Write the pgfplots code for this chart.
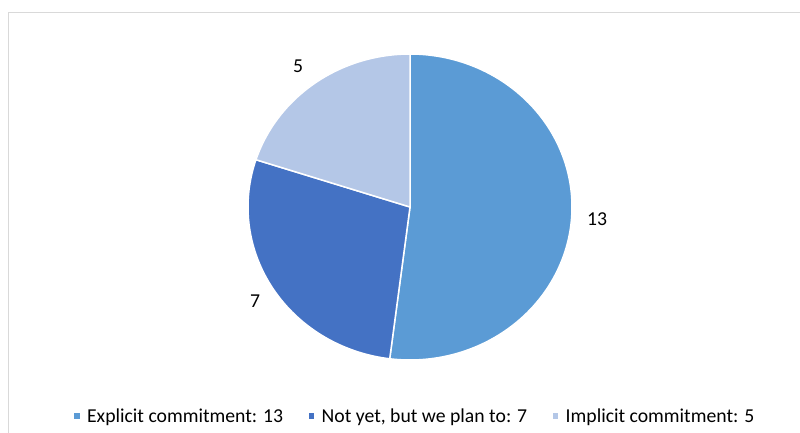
\documentclass[border=0pt]{standalone}
\usepackage{pgfplots}
\pgfplotsset{compat=1.18}
\usepackage{fontspec}
\setmainfont{Carlito}
\definecolor{cA}{HTML}{5B9BD5}
\definecolor{cB}{HTML}{4472C4}
\definecolor{cC}{HTML}{B4C7E7}
\definecolor{frame}{HTML}{D9D9D9}
\def\vA{13}\def\vB{7}\def\vC{5}
\pgfmathsetmacro\tot{\vA+\vB+\vC}
\pgfmathsetmacro\aA{90-360*\vA/\tot}
\pgfmathsetmacro\aB{\aA-360*\vB/\tot}
\pgfmathsetmacro\aC{\aB-360*\vC/\tot}
\begin{document}%
\begin{tikzpicture}[font=\fontsize{19.7pt}{23pt}\selectfont]
\begin{axis}[at={(0,0)},anchor=south west, scale only axis, width=800pt, height=432pt,
  xmin=0,xmax=800,ymin=0,ymax=432, hide axis, clip=false,
  legend columns=3,
  legend style={at={(axis cs:414.5,16)}, anchor=center, draw=none, fill=none,
    font=\fontsize{19.7pt}{23pt}\selectfont,
    /tikz/every odd column/.append style={column sep=4pt},
    /tikz/every even column/.append style={column sep=22pt}},
  legend image code/.code={\fill (0pt,-3.5pt) rectangle (7pt,3.5pt);},
]
\addplot[fill=cA, draw=white, line width=1.5pt, domain=\aA:90, samples=120]
  ({410+162*cos(x)},{225+153*sin(x)}) -- (axis cs:410,225) -- cycle;
\addplot[fill=cB, draw=white, line width=1.5pt, domain=\aB:\aA, samples=80]
  ({410+162*cos(x)},{225+153*sin(x)}) -- (axis cs:410,225) -- cycle;
\addplot[fill=cC, draw=white, line width=1.5pt, domain=\aC:\aB, samples=60]
  ({410+162*cos(x)},{225+153*sin(x)}) -- (axis cs:410,225) -- cycle;
\legend{Explicit commitment: 13, {Not yet, but we plan to: 7}, Implicit commitment: 5}
\node at (axis cs:597,213) {13};
\node at (axis cs:255,131) {7};
\node at (axis cs:298,366) {5};
\draw[frame, line width=1pt] (axis cs:8,-5) |- (axis cs:810,419);
\end{axis}
\pgfresetboundingbox
\path (0,0) rectangle (800pt,432pt);
\end{tikzpicture}%
\end{document}
